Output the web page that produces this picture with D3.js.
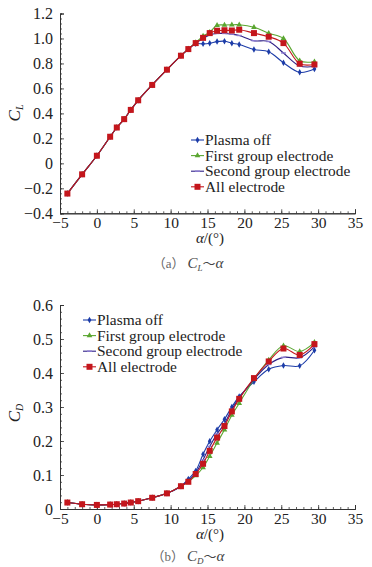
<!DOCTYPE html>
<html lang="en">
<head>
<meta charset="UTF-8">
<title>CL / CD vs alpha</title>
<script src="https://cdn.jsdelivr.net/npm/d3@7"></script>
<style>
  body { margin: 0; background: #fff; }
  text { font-family: "Liberation Serif", "Times New Roman", "Noto Sans CJK SC", serif; fill: #222; }
</style>
</head>
<body>
<svg id="svg"></svg>
<script>
// angle of attack (deg)
const alpha = [-4, -2, 0, 1.8, 2.7, 3.7, 4.6, 5.6, 7.5, 9.5, 11.4, 12.4, 13.4, 14.4, 15.3, 16.3, 17.3, 18.3, 19.3, 21.3, 23.3, 25.3, 27.5, 29.5];
const seriesNames = ["Plasma off", "First group electrode", "Second group electrode", "All electrode"];

// lift coefficient
const clOff    = [-0.242, -0.088, 0.061, 0.213, 0.287, 0.354, 0.428, 0.505, 0.628, 0.75, 0.862, 0.915, 0.957, 0.957, 0.962, 0.975, 0.978, 0.962, 0.952, 0.912, 0.894, 0.806, 0.729, 0.755];
const clFirst  = [-0.242, -0.088, 0.061, 0.213, 0.287, 0.354, 0.428, 0.505, 0.628, 0.75, 0.862, 0.915, 0.968, 1.019, 1.05, 1.105, 1.108, 1.11, 1.11, 1.09, 1.042, 1.0, 0.822, 0.814];
const clSecond = [-0.242, -0.088, 0.061, 0.213, 0.287, 0.354, 0.428, 0.505, 0.628, 0.75, 0.862, 0.915, 0.963, 1.0, 1.028, 1.04, 1.04, 1.034, 1.024, 0.982, 0.976, 0.884, 0.78, 0.775];
const clAll    = [-0.242, -0.088, 0.061, 0.213, 0.287, 0.354, 0.428, 0.505, 0.628, 0.75, 0.862, 0.915, 0.963, 1.005, 1.043, 1.062, 1.066, 1.064, 1.07, 1.043, 1.014, 0.963, 0.798, 0.792];

// drag coefficient
const cdOff    = [0.019, 0.014, 0.012, 0.013, 0.014, 0.016, 0.019, 0.023, 0.033, 0.046, 0.067, 0.088, 0.112, 0.161, 0.199, 0.233, 0.264, 0.3, 0.331, 0.374, 0.411, 0.422, 0.421, 0.467];
const cdFirst  = [0.019, 0.014, 0.012, 0.013, 0.014, 0.016, 0.019, 0.023, 0.033, 0.046, 0.067, 0.08, 0.098, 0.122, 0.155, 0.194, 0.233, 0.276, 0.311, 0.381, 0.438, 0.48, 0.463, 0.49];
const cdSecond = [0.019, 0.014, 0.012, 0.013, 0.014, 0.016, 0.019, 0.023, 0.033, 0.046, 0.067, 0.084, 0.106, 0.145, 0.184, 0.221, 0.251, 0.293, 0.327, 0.381, 0.425, 0.446, 0.445, 0.477];
const cdAll    = [0.019, 0.014, 0.012, 0.013, 0.014, 0.016, 0.019, 0.023, 0.033, 0.046, 0.067, 0.08, 0.103, 0.133, 0.171, 0.21, 0.244, 0.287, 0.324, 0.385, 0.434, 0.472, 0.453, 0.485];

const xTicks = [-5, 0, 5, 10, 15, 20, 25, 30, 35];
const clTicks = [-0.4, -0.2, 0, 0.2, 0.4, 0.6, 0.8, 1.0, 1.2];
const cdTicks = [0, 0.1, 0.2, 0.3, 0.4, 0.5, 0.6];

const colors = ["#1c3ca8", "#5aa630", "#2e1f86", "#c4161c"];
const markerColors = ["#1c3ca8", "#5aa630", "#8a7ad0", "#c4161c"];
const shapes = ["diamond", "triangle", "dash", "square"];

const svg = d3.select("#svg").attr("width", 372).attr("height", 567);

function drawMarker(g, shape, x, y, color) {
    if (shape === "square") {
        g.append("rect").attr("x", x - 3).attr("y", y - 3).attr("width", 6).attr("height", 6).attr("fill", color);
    } else if (shape === "triangle") {
        g.append("path").attr("d", d3.symbol(d3.symbolTriangle, 14)()).attr("transform", `translate(${x},${y})`).attr("fill", color);
    } else if (shape === "diamond") {
        g.append("path").attr("d", d3.symbol(d3.symbolDiamond, 12)()).attr("transform", `translate(${x},${y})`).attr("fill", color);
    } else {
        g.append("line").attr("x1", x - 2.5).attr("x2", x + 2.5).attr("y1", y).attr("y2", y).attr("stroke", color).attr("stroke-width", 1.4);
    }
}

function drawChart(opt) {
    const x = d3.scaleLinear().domain([-5, 35]).range([60, 355]);
    const y = d3.scaleLinear().domain(opt.yDomain).range(opt.yRange);
    const g = svg.append("g");
    const y0 = opt.yRange[0];

    // x axis, ticks inside
    const xAxis = d3.axisBottom(x).tickValues(xTicks).tickSize(-4).tickFormat(d3.format("d"));
    const xMinor = d3.axisBottom(x).tickValues(d3.range(-5, 36, 1)).tickSize(-2).tickFormat("");
    g.append("g").attr("transform", `translate(0,${y0})`).call(xMinor);
    g.append("g").attr("transform", `translate(0,${y0})`).call(xAxis)
        .call(a => a.selectAll("text").attr("font-size", 15.5).attr("dy", null).attr("y", 15));

    // y axis
    const yAxis = d3.axisLeft(y).tickValues(opt.yTicks).tickSize(-4).tickFormat(opt.fmt);
    const yMinor = d3.axisLeft(y).tickValues(d3.range(0, opt.nMinor + 1).map(i => opt.yDomain[0] + i * opt.minorStep)).tickSize(-2).tickFormat("");
    g.append("g").attr("transform", "translate(60,0)").call(yMinor);
    g.append("g").attr("transform", "translate(60,0)").call(yAxis)
        .call(a => a.selectAll("text").attr("font-size", 16).attr("x", -7).attr("dy", "0.34em"));

    g.selectAll(".domain").attr("stroke", "#333").attr("stroke-width", 1);
    g.selectAll(".tick line").attr("stroke", "#333").attr("stroke-width", 0.8);

    // y label
    const yl = g.append("text").attr("transform", `translate(20,${opt.yLabelY}) rotate(-90)`)
        .attr("text-anchor", "middle").attr("font-size", 17).attr("font-style", "italic");
    yl.append("tspan").text("C");
    yl.append("tspan").attr("font-size", 10).attr("dy", 3).text(opt.sub);

    // x label
    const xl = g.append("text").attr("x", 210).attr("y", y0 + 29.5).attr("text-anchor", "middle").attr("font-size", 15);
    xl.append("tspan").attr("font-style", "italic").text("α");
    xl.append("tspan").text("/(°)");

    // caption
    const cap = g.append("text").attr("x", 188).attr("y", opt.capY).attr("text-anchor", "middle").attr("font-size", 15).style("fill", "#666");
    cap.append("tspan").attr("font-size", 13).text("（" + opt.letter + "）");
    cap.append("tspan").attr("dx", 3).attr("font-style", "italic").style("fill", "#444").text("C");
    cap.append("tspan").attr("font-style", "italic").attr("font-size", 9).attr("dy", 3).style("fill", "#444").text(opt.sub);
    cap.append("tspan").attr("dy", -3).attr("font-size", 13).style("fill", "#444").text("～");
    cap.append("tspan").attr("font-style", "italic").style("fill", "#444").text("α");

    // series
    const line = d3.line().x((d, i) => x(alpha[i])).y(d => y(d)).curve(d3.curveCatmullRom.alpha(0.5));
    opt.series.forEach((s, k) => {
        g.append("path").datum(s).attr("d", line).attr("fill", "none")
            .attr("stroke", colors[k]).attr("stroke-width", 1.1);
        const mg = g.append("g");
        s.forEach((v, i) => drawMarker(mg, shapes[k], x(alpha[i]), y(v), markerColors[k]));
    });

    // legend
    seriesNames.forEach((name, k) => {
        const ly = opt.legY + k * 15.6;
        const lg = g.append("g");
        lg.append("line").attr("x1", opt.legX).attr("x2", opt.legX + 13).attr("y1", ly).attr("y2", ly)
            .attr("stroke", colors[k]).attr("stroke-width", 1.1);
        drawMarker(lg, shapes[k], opt.legX + 6.5, ly, markerColors[k]);
        lg.append("text").attr("x", opt.legX + 14).attr("y", ly + 5).attr("font-size", 15.4).text(name);
    });
}

drawChart({
    yDomain: [-0.4, 1.2], yRange: [213.3, 13.5], yTicks: clTicks,
    fmt: d => d === 0 ? "0" : d3.format(".1f")(d),
    nMinor: 40, minorStep: 0.04,
    sub: "L", letter: "a", yLabelY: 113, capY: 268,
    series: [clOff, clFirst, clSecond, clAll],
    legX: 191, legY: 140
});

drawChart({
    yDomain: [0, 0.6], yRange: [509, 305], yTicks: cdTicks,
    fmt: d => d === 0 ? "0" : d3.format(".1f")(d),
    nMinor: 30, minorStep: 0.02,
    sub: "D", letter: "b", yLabelY: 413, capY: 561,
    series: [cdOff, cdFirst, cdSecond, cdAll],
    legX: 83, legY: 320
});
</script>
</body>
</html>
